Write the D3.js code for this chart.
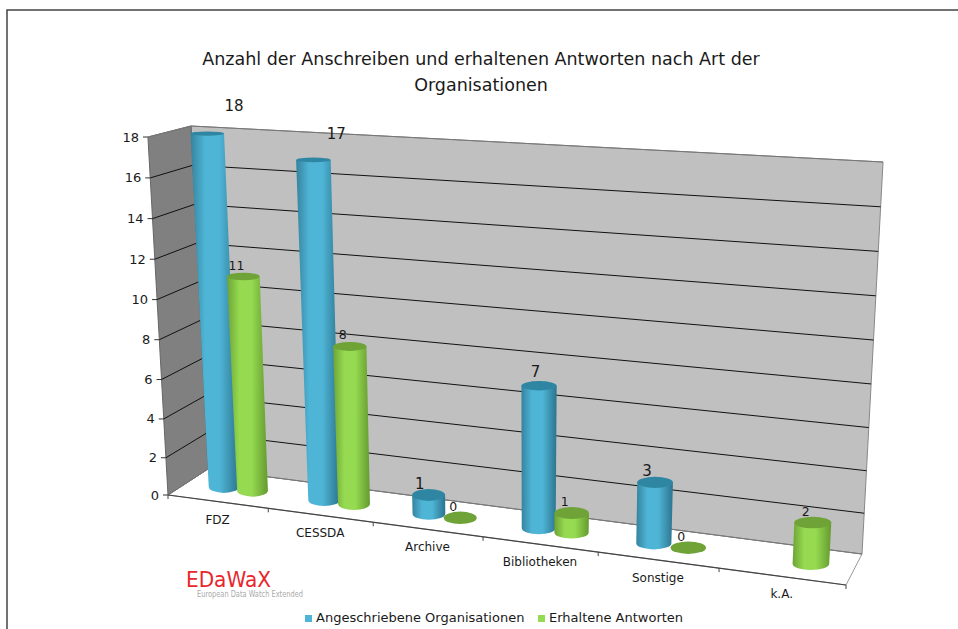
<!DOCTYPE html>
<html>
<head>
<meta charset="utf-8">
<script src="https://cdn.jsdelivr.net/npm/d3@7"></script>
<style>
html, body { margin: 0; padding: 0; background: #fff; }
svg { display: block; }
text { font-family: "DejaVu Sans", sans-serif; fill: #1a1a1a; }
</style>
</head>
<body>
<script>
var categories = ["FDZ", "CESSDA", "Archive", "Bibliotheken", "Sonstige", "k.A."];
var anschreiben = [18, 17, 1, 7, 3, null];
var antworten = [11, 8, 0, 1, 0, 2];
var yTicks = [0, 2, 4, 6, 8, 10, 12, 14, 16, 18];
var titleLines = ["Anzahl der Anschreiben und erhaltenen Antworten nach Art der", "Organisationen"];
var seriesNames = ["Angeschriebene Organisationen", "Erhaltene Antworten"];

var width = 958,
    height = 629;

var svg = d3.select("body").append("svg")
    .attr("width", width)
    .attr("height", height);

// corners of the floor, the picture is a slanted 3d view
var floorFL = [168, 495], floorFR = [846, 585], floorBR = [862, 554], floorBL = [208, 469];
var wallH = { fl: 358, fr: 408, bl: 343, br: 392 };
var vanish = [524, 6850];

var x = d3.scaleBand().domain(d3.range(categories.length)).range([0, 1]);
var series = d3.scalePoint().domain([0, 1]).range([0.37, 0.66]);
var y = d3.scalePow().exponent(1.03).domain([0, 18]).range([0, 1]);

function warp(u) { return u / (1 + 0.152 * (1 - u)); }
function mix(a, b, t) { return a + (b - a) * t; }

// u along the categories, w into the depth, v the value
function project(u, w, v) {
  var s = warp(u);
  var fx = mix(floorFL[0], floorFR[0], s), fy = mix(floorFL[1], floorFR[1], s);
  var bx = mix(floorBL[0], floorBR[0], s), by = mix(floorBL[1], floorBR[1], s);
  var px = mix(fx, bx, w), py = mix(fy, by, w);
  var h = mix(mix(wallH.fl, wallH.fr, s), mix(wallH.bl, wallH.br, s), w) * y(v);
  return [px + (px - vanish[0]) / (vanish[1] - py) * h, py - h];
}

var line = d3.line();

// outer frame of the screenshot
svg.append("path")
    .attr("d", line([[7, height], [7, 10], [width, 10]]))
    .attr("fill", "none")
    .attr("stroke", "#444")
    .attr("stroke-width", 1.5);

svg.selectAll("text.title")
    .data(titleLines)
  .enter().append("text")
    .attr("class", "title")
    .attr("x", 481)
    .attr("y", function(d, i) { return 65 + i * 26; })
    .attr("text-anchor", "middle")
    .style("font-size", "17.5px")
    .text(function(d) { return d; });

// floor and walls
svg.append("path")
    .attr("d", line([project(0, 0, 0), project(1, 0, 0), project(1, 1, 0), project(0, 1, 0)]) + "Z")
    .attr("fill", "#fff")
    .attr("stroke", "#999");

svg.append("path")
    .attr("d", line([project(0, 1, 0), project(1, 1, 0), project(1, 1, 18), project(0, 1, 18)]) + "Z")
    .attr("fill", "#c0c0c0")
    .attr("stroke", "#888");

svg.append("path")
    .attr("d", line([project(0, 0, 0), project(0, 1, 0), project(0, 1, 18), project(0, 0, 18)]) + "Z")
    .attr("fill", "#808080")
    .attr("stroke", "#666");

svg.selectAll("path.grid")
    .data(yTicks)
  .enter().append("path")
    .attr("class", "grid")
    .attr("d", function(d) { return line([project(0, 0, d), project(0, 1, d), project(1, 1, d)]); })
    .attr("fill", "none")
    .attr("stroke", function(d) { return d === 0 || d === 18 ? "#777" : "#111"; })
    .attr("stroke-width", 1);

svg.selectAll("line.ytick")
    .data(yTicks)
  .enter().append("line")
    .attr("class", "ytick")
    .attr("x1", function(d) { return project(0, 0, d)[0] - 5; })
    .attr("x2", function(d) { return project(0, 0, d)[0]; })
    .attr("y1", function(d) { return project(0, 0, d)[1]; })
    .attr("y2", function(d) { return project(0, 0, d)[1]; })
    .attr("stroke", "#333");

svg.selectAll("text.ylabel")
    .data(yTicks)
  .enter().append("text")
    .attr("class", "ylabel")
    .attr("x", function(d) { return project(0, 0, d)[0] - 9; })
    .attr("y", function(d) { return project(0, 0, d)[1] + 4.5; })
    .attr("text-anchor", "end")
    .style("font-size", "13px")
    .text(function(d) { return d; });

// front edge of the floor with its category ticks
svg.append("path")
    .attr("d", line([project(0, 0, 0), project(1, 0, 0)]))
    .attr("stroke", "#444")
    .attr("stroke-width", 1.2);

svg.selectAll("line.xtick")
    .data(d3.range(categories.length + 1))
  .enter().append("line")
    .attr("class", "xtick")
    .attr("x1", function(d) { return project(d / categories.length, 0, 0)[0]; })
    .attr("x2", function(d) { return project(d / categories.length, 0, 0)[0]; })
    .attr("y1", function(d) { return project(d / categories.length, 0, 0)[1]; })
    .attr("y2", function(d) { return project(d / categories.length, 0, 0)[1] + 4; })
    .attr("stroke", "#444");

svg.selectAll("text.xlabel")
    .data(categories)
  .enter().append("text")
    .attr("class", "xlabel")
    .attr("x", function(d, i) { return project(x(i) + x.bandwidth() / 2, 0, 0)[0]; })
    .attr("y", function(d, i) { return project(x(i) + x.bandwidth() / 2, 0, 0)[1] + 22; })
    .attr("text-anchor", "middle")
    .style("font-size", "12px")
    .text(function(d) { return d; });

// gradients for the cylinders
var colors = [
  { edgeL: "#35839e", mid: "#4fb5d6", edgeR: "#2b748e", top: "#2f86a3" },
  { edgeL: "#6ea335", mid: "#95da50", edgeR: "#659a30", top: "#6fa338" }
];
var defs = svg.append("defs");
colors.forEach(function(c, i) {
  var g = defs.append("linearGradient").attr("id", "cyl" + i);
  g.append("stop").attr("offset", "0%").attr("stop-color", c.edgeL);
  g.append("stop").attr("offset", "30%").attr("stop-color", c.mid);
  g.append("stop").attr("offset", "60%").attr("stop-color", c.mid);
  g.append("stop").attr("offset", "100%").attr("stop-color", c.edgeR);
});

var bars = [];
categories.forEach(function(c, i) {
  [anschreiben[i], antworten[i]].forEach(function(v, s) {
    if (v !== null) bars.push({ cat: i, s: s, v: v, u: x(i) + series(s) * x.bandwidth() });
  });
});

function cylinder(d) {
  var base = project(d.u, 0.5, 0),
      top = project(d.u, 0.5, d.v),
      rx = 15 + 3.5 * d.u,
      rxTop = rx * (1 + 0.1 * y(d.v)),
      ry = 6.2,
      ryTop = ry * (1 - 0.65 * y(d.v)),
      g = d3.select(this);
  if (d.v > 0) {
    g.append("path")
        .attr("d", "M" + (top[0] - rxTop) + "," + top[1] +
          "L" + (base[0] - rx) + "," + base[1] +
          "A" + rx + "," + ry + " 0 0 0 " + (base[0] + rx) + "," + base[1] +
          "L" + (top[0] + rxTop) + "," + top[1] + "Z")
        .attr("fill", "url(#cyl" + d.s + ")");
  }
  g.append("ellipse")
      .attr("cx", top[0])
      .attr("cy", top[1])
      .attr("rx", rxTop)
      .attr("ry", ryTop)
      .attr("fill", colors[d.s].top);
}

svg.selectAll("g.bar")
    .data(bars)
  .enter().append("g")
    .attr("class", "bar")
    .each(cylinder);

svg.selectAll("text.value")
    .data(bars)
  .enter().append("text")
    .attr("class", "value")
    .attr("x", function(d) {
      var dx = d.s === 0 ? -9 + 0.11 * d.v * d.v : -7;
      return project(d.u, 0.5, d.v)[0] + dx;
    })
    .attr("y", function(d) {
      var dy = d.s === 0 ? -11 - 0.05 * d.v * d.v : -12;
      return project(d.u, 0.5, d.v)[1] + dy + 5;
    })
    .attr("text-anchor", "middle")
    .style("font-size", function(d) { return d.s === 0 ? "15px" : "12.5px"; })
    .text(function(d) { return d.v; });

// logo
svg.append("text")
    .attr("x", 186)
    .attr("y", 587)
    .style("font-size", "22px")
    .style("fill", "#e8262d")
    .attr("textLength", 85)
    .attr("lengthAdjust", "spacingAndGlyphs")
    .text("EDaWaX");

svg.append("text")
    .attr("x", 197)
    .attr("y", 597)
    .style("font-size", "8px")
    .style("fill", "#aaa")
    .attr("textLength", 106)
    .attr("lengthAdjust", "spacingAndGlyphs")
    .text("European Data Watch Extended");

// legend
var legendX = [305, 538];
svg.selectAll("rect.legend")
    .data(seriesNames)
  .enter().append("rect")
    .attr("class", "legend")
    .attr("x", function(d, i) { return legendX[i]; })
    .attr("y", 615)
    .attr("width", 7)
    .attr("height", 7)
    .attr("fill", function(d, i) { return colors[i].mid; });

svg.selectAll("text.legend")
    .data(seriesNames)
  .enter().append("text")
    .attr("class", "legend")
    .attr("x", function(d, i) { return legendX[i] + 11; })
    .attr("y", 622)
    .style("font-size", "13px")
    .text(function(d) { return d; });
</script>
</body>
</html>
